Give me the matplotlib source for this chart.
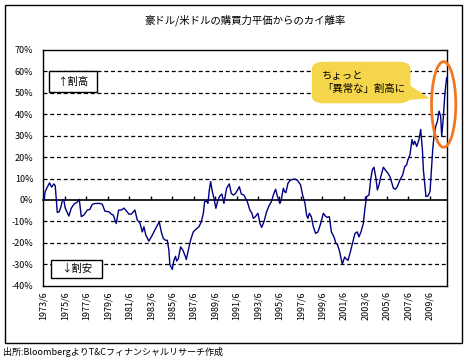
#!/usr/bin/env python3
# -*- coding: utf-8 -*-
import matplotlib
matplotlib.use("Agg")
import matplotlib.pyplot as plt
from matplotlib.patches import Rectangle, FancyBboxPatch, Polygon, Ellipse
from matplotlib.ticker import FuncFormatter

plt.rcParams['font.family'] = ['Noto Sans CJK JP', 'DejaVu Sans']

title = "豪ドル/米ドルの購買力平価からのカイ離率"
source = "出所:BloombergよりT&Cフィナンシャルリサーチ作成"
callout = "ちょっと\n「異常な」割高に"

# decimal year, deviation from PPP (%)
years = [1973.53, 1973.66, 1973.85, 1974.06, 1974.25, 1974.46, 1974.59, 1974.78, 1974.96, 1975.11,
         1975.27, 1975.39, 1975.52, 1975.86, 1976.08, 1976.33, 1976.64, 1976.83, 1977.02, 1977.26,
         1977.58, 1977.82, 1978.04, 1978.35, 1978.75, 1978.98, 1979.22, 1979.59, 1979.84, 1980.00,
         1980.28, 1980.50, 1980.75, 1980.99, 1981.24, 1981.46, 1981.68, 1981.87, 1982.02, 1982.24,
         1982.48, 1982.71, 1982.86, 1983.04, 1983.32, 1983.64, 1983.95, 1984.29, 1984.48, 1984.67,
         1984.88, 1985.04, 1985.19, 1985.28, 1985.51, 1985.65, 1985.81, 1985.91, 1986.07, 1986.28,
         1986.50, 1986.62, 1986.72, 1986.81, 1986.96, 1987.21, 1987.46, 1987.68, 1987.99, 1988.21,
         1988.40, 1988.52, 1988.71, 1988.83, 1988.96, 1989.08, 1989.24, 1989.39, 1989.57, 1989.76,
         1989.95, 1990.13, 1990.32, 1990.57, 1990.82, 1991.01, 1991.20, 1991.41, 1991.76, 1991.94,
         1992.18, 1992.50, 1992.74, 1992.93, 1993.06, 1993.25, 1993.49, 1993.68, 1993.84, 1994.05,
         1994.30, 1994.52, 1994.74, 1994.98, 1995.14, 1995.30, 1995.54, 1995.67, 1995.86, 1995.98,
         1996.10, 1996.29, 1996.48, 1996.79, 1997.01, 1997.22, 1997.47, 1997.66, 1997.88, 1998.03,
         1998.15, 1998.29, 1998.47, 1998.66, 1998.87, 1999.09, 1999.34, 1999.59, 1999.78, 1999.96,
         2000.15, 2000.34, 2000.58, 2000.77, 2000.90, 2001.08, 2001.21, 2001.36, 2001.58, 2001.70,
         2001.89, 2002.07, 2002.30, 2002.54, 2002.76, 2002.91, 2003.10, 2003.32, 2003.47, 2003.63,
         2003.85, 2004.00, 2004.16, 2004.31, 2004.47, 2004.63, 2004.78, 2004.94, 2005.19, 2005.40,
         2005.62, 2005.80, 2005.99, 2006.12, 2006.31, 2006.49, 2006.74, 2006.99, 2007.18, 2007.36,
         2007.48, 2007.67, 2007.86, 2007.99, 2008.11, 2008.30, 2008.51, 2008.67, 2008.83, 2008.92,
         2009.04, 2009.16, 2009.35, 2009.54, 2009.67, 2009.79, 2009.91, 2010.07, 2010.23, 2010.38,
         2010.53, 2010.63, 2010.75, 2010.93, 2011.09]
values = [0.0, 4.0, 6.0, 8.0, 6.0, 7.5, 6.6, -5.8, -5.5, -3.4,
          0.0, 0.0, -3.7, -7.5, -3.9, -2.0, -1.0, 0.3, -7.8, -7.0,
          -4.7, -4.4, -2.0, -1.6, -1.6, -2.0, -5.2, -5.5, -6.7, -7.0,
          -11.0, -4.7, -4.7, -3.8, -5.2, -6.6, -6.6, -5.5, -4.7, -9.4,
          -10.6, -14.9, -12.5, -16.4, -19.2, -16.4, -13.3, -10.2, -14.9, -18.0,
          -18.8, -18.8, -23.5, -30.2, -32.4, -28.2, -26.3, -28.5, -27.4, -21.9,
          -23.5, -25.0, -26.3, -27.8, -24.3, -18.8, -14.9, -13.8, -12.5, -10.2,
          -6.2, -0.8, -0.5, -1.6, 4.7, 8.6, 3.9, 0.8, -3.9, 0.0,
          1.9, 2.8, -1.6, 5.5, 7.5, 3.1, 2.3, 3.1, 6.2, 2.8,
          2.3, -0.8, -4.7, -6.2, -8.6, -7.8, -6.2, -11.0, -12.8, -10.2,
          -5.5, -2.8, -0.8, 3.1, 5.0, 1.9, -1.6, 0.0, 5.5, 3.9,
          3.4, 7.8, 9.1, 9.7, 9.7, 8.9, 7.0, 2.3, -1.6, -7.0,
          -8.6, -6.2, -7.8, -12.5, -15.6, -14.9, -11.0, -6.2, -7.5, -8.1,
          -7.8, -14.9, -17.2, -20.3, -20.8, -23.5, -26.6, -30.0, -26.6, -27.4,
          -28.2, -25.0, -20.3, -15.6, -14.9, -17.2, -14.9, -11.0, -3.9, 1.6,
          2.3, 9.4, 14.1, 15.3, 10.9, 4.7, 7.0, 10.7, 15.3, 13.8,
          12.5, 10.9, 7.8, 5.5, 5.0, 6.2, 9.4, 11.7, 15.6, 16.4,
          18.8, 21.1, 28.2, 25.8, 27.4, 25.0, 28.2, 32.9, 23.5, 14.1,
          7.8, 1.6, 1.9, 3.9, 14.1, 23.5, 29.7, 34.4, 36.7, 41.5,
          39.1, 29.7, 36.7, 50.0, 57.1]

tick_years = list(range(1973, 2010, 2))
tick_labels = [f"{y}/6" for y in tick_years]
y_ticks = list(range(-40, 71, 10))

fig = plt.figure(figsize=(4.67, 3.61), dpi=100)
fig.patches.append(Rectangle((0.0113, 0.0507), 0.9773, 0.9346, transform=fig.transFigure,
                             fill=False, edgecolor="black", linewidth=1.0))
ax = fig.add_axes([0.0921, 0.2086, 0.8657, 0.6529])

for v in y_ticks:
    if v in (-40, 70, 0):
        continue
    ax.axhline(v, color="black", linewidth=0.9, dashes=(3.2, 2.2), zorder=1)

ax.plot(years, values, color="#000080", linewidth=1.0, zorder=3)

ax.set_xlim(1973.45, 2011.15)
ax.set_ylim(-40, 70)
ax.set_yticks(y_ticks)
ax.yaxis.set_major_formatter(FuncFormatter(lambda v, p: f"{int(v)}%"))
ax.set_xticks([y + 0.5 for y in tick_years])
ax.set_xticklabels(tick_labels, rotation=90, fontsize=6.5, va="top")
ax.tick_params(axis="x", length=0, pad=4)
ax.tick_params(axis="y", length=0, pad=7, labelsize=6.5)
for s in ax.spines.values():
    s.set_linewidth(1.0)

# zero line with tick marks
zero = ax.secondary_xaxis(40 / 110)
zero.set_xticks([y + 0.5 for y in tick_years])
zero.tick_params(direction="in", length=3, width=1.0, labelbottom=False, labeltop=False)
zero.spines["bottom"].set_linewidth(1.2)

ax.set_title(title, fontsize=7.5, pad=19)

# labels boxes
ax.add_patch(Rectangle((0.0141, 0.822), 0.1187, 0.089, transform=ax.transAxes,
                       fill=True, facecolor="white", edgecolor="black", linewidth=1.0, zorder=4))
ax.text(0.073, 0.866, "↑割高", transform=ax.transAxes, ha="center", va="center", fontsize=7.5, zorder=5)
ax.add_patch(Rectangle((0.0198, 0.0314), 0.1269, 0.0776, transform=ax.transAxes,
                       fill=True, facecolor="white", edgecolor="black", linewidth=1.0, zorder=4))
ax.text(0.083, 0.070, "↓割安", transform=ax.transAxes, ha="center", va="center", fontsize=7.5, zorder=5)

# callout
yel = "#F5D54A"
ax.add_patch(FancyBboxPatch((0.675, 0.784), 0.224, 0.156, boxstyle="round,pad=0.01,rounding_size=0.03",
                            transform=ax.transAxes, facecolor=yel, edgecolor="none", zorder=4))
ax.add_patch(Polygon([(0.905, 0.852), (0.905, 0.788), (0.957, 0.795)], closed=True,
                     transform=ax.transAxes, facecolor=yel, edgecolor="none", zorder=4))
ax.text(0.69, 0.862, callout, transform=ax.transAxes, ha="left", va="center",
        fontsize=7.5, linespacing=1.3, zorder=5)

ax.add_patch(Ellipse((0.991, 0.769), 0.060, 0.363, transform=ax.transAxes, fill=False,
                     edgecolor="#F07820", linewidth=2.0, clip_on=False, zorder=6))

fig.text(0.006, 0.025, source, ha="left", va="center", fontsize=6.5)

plt.savefig("out.png", dpi=100)
